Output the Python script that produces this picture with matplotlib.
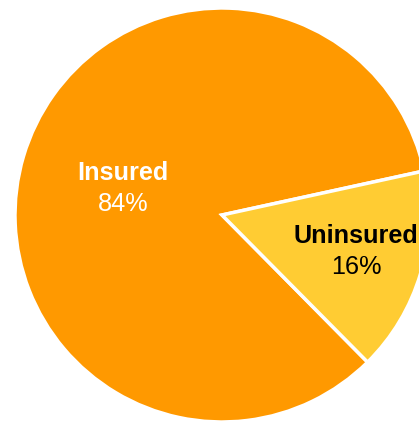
import numpy as np
import matplotlib.pyplot as plt

# Data
labels = ['Insured', 'Uninsured']
shares = [84, 16]
colors = ['#FF9900', '#FFCC33']
text_colors = ['white', 'black']
label_radius = [0.5, 0.668]
label_turn = [0, 2.3]  # degrees, nudge of label off the wedge middle

plt.rcParams['font.family'] = ['Liberation Sans', 'DejaVu Sans']

W, H = 419, 422
fig = plt.figure(figsize=(W / 100, H / 100), dpi=100)
ax = fig.add_axes([0, 0, 1, 1])

# pie centre at pixel (222, 215), radius 207 px
cx, cy, r_px = 222, 215, 207
wedges, _ = ax.pie(shares, colors=colors, startangle=12.3, counterclock=True,
                   radius=1.0, wedgeprops=dict(edgecolor='white', linewidth=2.5))

ax.set_xlim(-cx / r_px, (W - cx) / r_px)
ax.set_ylim(-(H - cy) / r_px, cy / r_px)
ax.set_aspect('auto')
ax.axis('off')

gap = 6 / r_px  # half gap between the two text lines
for w, lab, val, tc, rr, turn in zip(wedges, labels, shares, text_colors,
                                     label_radius, label_turn):
    ang = np.deg2rad((w.theta1 + w.theta2) / 2 + turn)
    x, y = rr * np.cos(ang), rr * np.sin(ang)
    ax.text(x, y + gap, lab, ha='center', va='baseline', color=tc,
            fontsize=18.2, fontweight='bold')
    ax.text(x, y - gap, f'{val}%', ha='center', va='top', color=tc,
            fontsize=18.2)

fig.savefig('out.png', dpi=100)
